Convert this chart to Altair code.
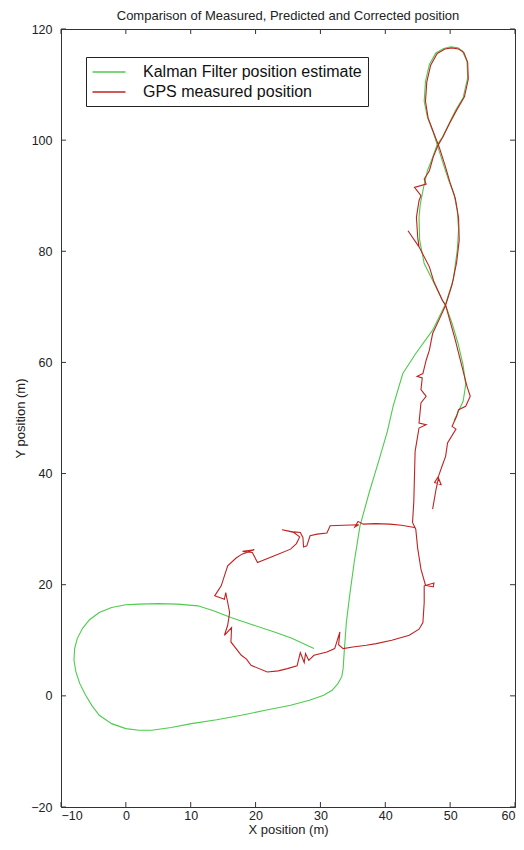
import altair as alt
import pandas as pd

# ---- data ----
kalman_x = [29.0, 25.5, 22.9, 19.5, 16.2, 13.5, 11.1, 8.0, 5.0, 2.0, 0.0, -2.2, -4.1, -5.6, -6.7, -7.5, -7.9, -8.0, -7.7, -7.1,
            -6.2, -5.2, -4.1, -2.2, 0.0, 2.0, 4.0, 7.0, 10.1, 14.0, 17.8, 21.5, 25.4, 28.3, 30.5, 31.8, 32.7, 33.3, 33.5, 33.7,
            34.0, 34.5, 35.2, 36.1, 37.5, 39.2, 40.3, 41.2, 42.7, 44.7, 47.3, 49.3, 50.5, 51.1, 51.3, 51.1, 50.6, 49.8, 49.0, 48.0,
            47.3, 46.5, 46.0, 46.2, 46.8, 47.8, 49.0, 50.1, 51.2, 51.9, 52.6, 52.7, 52.0, 50.8, 49.8, 48.8, 48.0, 47.3, 46.5, 45.9,
            45.4, 45.2, 45.3, 46.0, 47.3, 48.8, 49.3, 50.3, 51.2, 52.0, 52.4, 52.0, 51.2, 50.6]
kalman_y = [8.5, 10.4, 11.5, 12.8, 14.1, 15.3, 16.2, 16.5, 16.6, 16.5, 16.4, 15.9, 15.0, 13.7, 12.1, 10.3, 8.5, 6.4, 4.3, 2.2,
            0.1, -1.8, -3.5, -5.0, -5.9, -6.2, -6.2, -5.7, -5.0, -4.3, -3.5, -2.6, -1.7, -0.8, 0.1, 1.0, 2.2, 3.5, 4.9, 8.5,
            13.2, 18.0, 24.0, 30.6, 36.5, 43.1, 47.5, 52.1, 58.0, 61.6, 65.8, 70.5, 75.0, 80.2, 84.0, 87.3, 90.3, 92.7, 95.5, 99.2,
            101.7, 104.1, 107.0, 110.6, 113.6, 115.7, 116.5, 116.8, 116.6, 116.0, 114.2, 111.2, 107.6, 105.3, 102.9, 100.5, 99.2, 96.9, 94.5, 91.5,
            88.5, 86.1, 82.0, 77.8, 74.8, 71.2, 70.3, 67.0, 63.5, 59.5, 56.0, 53.0, 51.0, 49.5]

gps_x = [44.5, 42.5, 40.7, 38.5, 36.6, 35.8, 35.3, 35.9, 33.5, 31.5, 31.0, 29.5, 28.4, 27.9, 27.4, 27.3, 26.9, 25.9, 24.1, 25.9,
         26.8, 26.3, 25.4, 22.9, 20.3, 19.5, 18.0, 19.8, 17.9, 17.0, 15.7, 14.7, 13.7, 15.2, 15.4, 16.0, 15.7, 15.2, 16.3, 16.2,
         17.8, 18.6, 19.3, 21.8, 23.5, 24.9, 26.4, 26.9, 27.5, 27.7, 28.2, 29.0, 31.0, 32.2, 33.0, 32.8, 33.5, 35.0, 37.1, 38.6,
         41.0, 43.7, 45.2, 45.8, 46.0, 46.0, 47.5, 47.4, 46.2, 45.5, 45.0, 44.7, 44.2, 44.4, 44.5, 44.6, 44.9, 45.2, 46.3, 45.2,
         45.5, 46.3, 45.5, 45.7, 44.9, 45.8, 46.3, 46.8, 47.3, 48.5, 49.3, 50.3, 51.0, 51.4, 51.3, 50.8, 50.0, 49.2, 48.3, 47.4,
         46.6, 46.2, 46.4, 47.0, 48.0, 49.2, 50.2, 51.3, 52.1, 52.7, 52.8, 52.2, 51.0, 49.9, 48.9, 48.1, 47.4, 46.8, 46.0, 46.3,
         44.5, 45.5, 45.2, 44.8, 45.0, 45.2, 43.5, 45.2, 46.8, 47.5, 48.8, 49.3, 50.8, 52.1, 52.6, 53.1, 52.4, 51.3, 51.0, 50.3,
         50.9, 49.6, 49.3, 48.8, 48.2, 47.6, 48.6, 48.2, 47.8, 47.3]
gps_y = [30.3, 30.7, 30.9, 31.0, 30.9, 31.4, 30.4, 30.8, 30.7, 30.6, 29.3, 29.1, 28.8, 27.0, 26.8, 28.5, 29.4, 29.5, 29.9, 29.4,
         28.6, 27.4, 26.4, 25.2, 24.0, 25.8, 26.0, 26.3, 25.5, 24.8, 23.4, 19.8, 18.0, 17.4, 18.6, 15.0, 12.7, 10.9, 12.3, 9.7,
         7.3, 6.6, 5.5, 4.3, 4.5, 4.9, 5.4, 7.8, 6.0, 7.6, 6.4, 7.3, 7.9, 8.5, 11.5, 9.2, 8.5, 8.8, 9.1, 9.4,
         10.0, 10.9, 12.0, 13.2, 16.8, 19.8, 20.3, 19.6, 19.9, 22.8, 26.5, 30.0, 31.2, 35.0, 39.5, 44.0, 46.1, 48.2, 48.8, 49.1,
         52.7, 53.9, 55.1, 57.2, 57.5, 58.0, 60.4, 62.2, 65.2, 68.2, 70.3, 74.0, 78.0, 82.0, 86.0, 89.5, 92.3, 95.5, 98.8, 101.5,
         104.0, 107.0, 110.5, 113.5, 115.6, 116.4, 116.6, 116.4, 115.8, 114.0, 111.0, 107.8, 105.4, 103.0, 100.6, 99.0, 97.0, 94.5, 93.0, 92.1,
         91.5, 90.0, 89.1, 86.1, 82.5, 80.8, 83.7, 80.8, 77.2, 74.5, 71.2, 70.3, 64.0, 58.0, 55.7, 53.9, 52.1, 51.5, 50.3, 48.5,
         48.0, 45.5, 43.1, 41.5, 39.5, 38.4, 38.0, 39.2, 37.0, 33.6]

series_names = ["Kalman Filter position estimate", "GPS measured position"]
series_colors = ["#4ccc4c", "#c02222"]
x_ticks = [-10, 0, 10, 20, 30, 40, 50, 60]
y_ticks = [-20, 0, 20, 40, 60, 80, 100, 120]

W, H = 454, 778

kal = pd.DataFrame({"x": kalman_x, "y": kalman_y, "i": range(len(kalman_x)), "series": series_names[0]})
gps = pd.DataFrame({"x": gps_x, "y": gps_y, "i": range(len(gps_x)), "series": series_names[1]})

xs = alt.Scale(domain=[-10, 60], nice=False, zero=False)
ys = alt.Scale(domain=[-20, 120], nice=False, zero=False)
cs = alt.Scale(domain=series_names, range=series_colors)

xaxis = alt.Axis(values=x_ticks, title="X position (m)", grid=False, ticks=False, labelPadding=2,
                 titlePadding=2, domainColor="#333")
yaxis = alt.Axis(values=y_ticks, title="Y position (m)", grid=False, ticks=False, labelPadding=9,
                 titlePadding=3, domainColor="#333")

legend = alt.Legend(title=None, orient="none", legendX=25, legendY=28, strokeColor="#222",
                    fillColor="white", padding=6, symbolType="M-2,0H2", symbolSize=272,
                    symbolStrokeWidth=1.4, symbolOffset=8, labelFontSize=16, labelOffset=25,
                    rowPadding=3, labelColor="#111", labelLimit=400)

def path(df):
    return alt.Chart(df).mark_line(strokeWidth=1.1, clip=True).encode(
        x=alt.X("x:Q", scale=xs, axis=xaxis),
        y=alt.Y("y:Q", scale=ys, axis=yaxis),
        color=alt.Color("series:N", scale=cs, legend=legend),
        order="i:Q",
    )

xt = pd.DataFrame({"v": x_ticks})
yt = pd.DataFrame({"v": y_ticks})
tick_col = "#333"
top_t = alt.Chart(xt).mark_rule(color=tick_col).encode(x=alt.X("v:Q", scale=xs), y=alt.value(0), y2=alt.value(5))
bot_t = alt.Chart(xt).mark_rule(color=tick_col).encode(x=alt.X("v:Q", scale=xs), y=alt.value(H), y2=alt.value(H - 5))
lef_t = alt.Chart(yt).mark_rule(color=tick_col).encode(y=alt.Y("v:Q", scale=ys), x=alt.value(0), x2=alt.value(5))
rig_t = alt.Chart(yt).mark_rule(color=tick_col).encode(y=alt.Y("v:Q", scale=ys), x=alt.value(W), x2=alt.value(W - 5))

chart = alt.layer(path(kal), path(gps), top_t, bot_t, lef_t, rig_t).properties(
    width=W, height=H,
    title=alt.TitleParams("Comparison of Measured, Predicted and Corrected position", fontSize=13,
                          fontWeight="normal", color="#222", offset=0, anchor="middle"),
    autosize=alt.AutoSizeParams(type="none"),
    padding={"left": 53, "top": 21, "right": 1, "bottom": 34},
).configure(font="Liberation Sans").configure_axis(
    labelFontSize=12.5, labelColor="#222", titleFontSize=13, titleColor="#222", titleFontWeight="normal",
).configure_view(stroke="#333", strokeWidth=1)

chart.save("out.html", embed_options={"renderer": "svg", "actions": False})
